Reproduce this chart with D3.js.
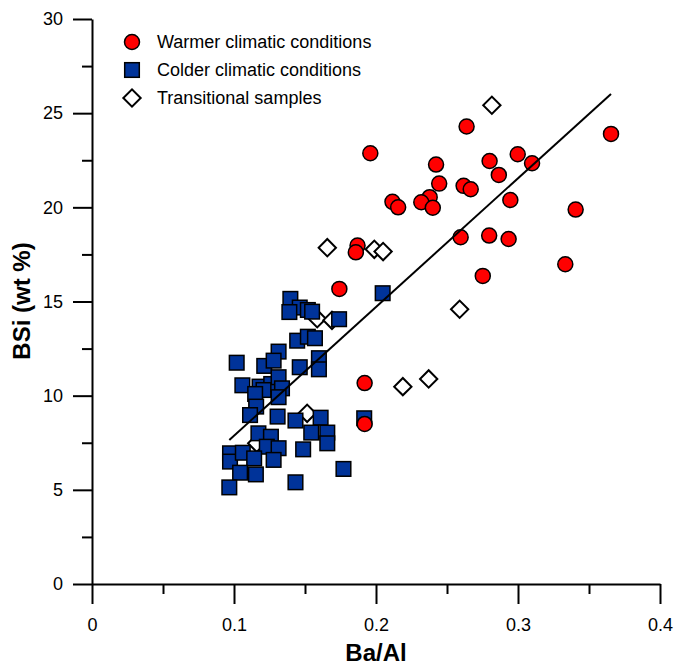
<!DOCTYPE html>
<html>
<head>
<meta charset="utf-8">
<title></title>
<script src="https://cdnjs.cloudflare.com/ajax/libs/d3/7.8.5/d3.min.js"></script>
<style>
  body { margin: 0; background: #fff; }
  text { font-family: "Liberation Sans", Arial, sans-serif; }
</style>
</head>
<body>
<script>
const width = 676;
const height = 665;

// warmer climatic conditions (red circles)
const warmX = [0.3655, 0.2638, 0.2423, 0.2800, 0.2998, 0.3099, 0.2865, 0.2445, 0.2617, 0.2667,
  0.2378, 0.2319, 0.2400, 0.2946, 0.3406, 0.2596, 0.2797, 0.2934, 0.3333, 0.2752,
  0.1960, 0.2116, 0.2156, 0.1870, 0.1858, 0.1742, 0.1920, 0.1920];
const warmY = [23.9, 24.29, 22.27, 22.46, 22.82, 22.34, 21.72, 21.26, 21.14, 20.96,
  20.54, 20.27, 19.98, 20.39, 19.88, 18.41, 18.50, 18.32, 16.98, 16.36,
  22.87, 20.29, 20.0, 17.97, 17.61, 15.67, 10.67, 8.50];

// colder climatic conditions (blue squares)
const coldX = [0.1397, 0.1463, 0.1390, 0.1520, 0.1550, 0.1740, 0.1445, 0.1520, 0.1570, 0.1314,
  0.1019, 0.1213, 0.1279, 0.1598, 0.1463, 0.1598, 0.1059, 0.1180, 0.1262, 0.1314,
  0.1338, 0.1208, 0.1149, 0.1314, 0.1156, 0.1113, 0.1307, 0.1433, 0.1610, 0.1544,
  0.1657, 0.1657, 0.1487, 0.1172, 0.1260, 0.1231, 0.1314, 0.1279, 0.0972, 0.0972,
  0.1062, 0.1142, 0.1043, 0.1154, 0.0967, 0.1433, 0.1771, 0.2047, 0.1917];
const coldY = [15.14, 14.68, 14.44, 14.55, 14.46, 14.06, 12.92, 13.13, 13.05, 12.34,
  11.75, 11.58, 11.86, 11.99, 11.51, 11.40, 10.55, 10.48, 10.62, 10.98,
  10.39, 10.30, 10.09, 9.92, 9.42, 8.97, 8.89, 8.68, 8.83, 8.04,
  8.04, 7.47, 7.15, 8.00, 7.82, 7.29, 7.21, 6.59, 6.94, 6.50,
  6.97, 6.67, 5.91, 5.82, 5.13, 5.40, 6.11, 15.44, 8.80];

// transitional samples (open diamonds)
const transX = [0.2816, 0.2589, 0.1657, 0.1988, 0.2050, 0.1586, 0.1690, 0.2189, 0.2371, 0.1515, 0.1160];
const transY = [25.42, 14.59, 17.86, 17.77, 17.65, 14.09, 14.0, 10.48, 10.89, 9.06, 7.47];

// regression line end points
const fitX = [0.0967, 0.3655];
const fitY = [7.65, 26.02];

const xTicks = [0, 0.1, 0.2, 0.3, 0.4];
const xMinor = [0.05, 0.15, 0.25, 0.35];
const yTicks = [0, 5, 10, 15, 20, 25, 30];
const yMinor = [2.5, 7.5, 12.5, 17.5, 22.5, 27.5];

const legendLabels = ['Warmer climatic conditions', 'Colder climatic conditions', 'Transitional samples'];

const svg = d3.select('body').append('svg')
  .attr('width', width)
  .attr('height', height);

const x = d3.scaleLinear().domain([0, 0.4]).range([92, 660]);
const y = d3.scaleLinear().domain([0, 30]).range([584, 19]);

const zip = (a, b) => a.map((v, i) => [v, b[i]]);

// axes
svg.append('g')
  .attr('transform', 'translate(0,584)')
  .call(d3.axisBottom(x).tickValues(xTicks).tickSize(20).tickSizeOuter(0).tickPadding(14)
    .tickFormat(d => d === 0 ? '0' : d3.format('.1f')(d)));
svg.append('g')
  .attr('transform', 'translate(0,584)')
  .call(d3.axisBottom(x).tickValues(xMinor).tickSize(10).tickFormat(''))
  .select('.domain').remove();

svg.append('g')
  .attr('transform', 'translate(92,0)')
  .call(d3.axisLeft(y).tickValues(yTicks).tickSize(19).tickSizeOuter(0).tickPadding(10));
svg.append('g')
  .attr('transform', 'translate(92,0)')
  .call(d3.axisLeft(y).tickValues(yMinor).tickSize(10).tickFormat(''))
  .select('.domain').remove();

svg.selectAll('.domain, .tick line').attr('stroke', '#000').attr('stroke-width', 2);
svg.selectAll('.tick text').attr('font-size', 18).attr('fill', '#000')
  .style('font-family', '"Liberation Sans", Arial, sans-serif');

svg.append('text')
  .attr('x', 376).attr('y', 661)
  .attr('text-anchor', 'middle')
  .attr('font-size', 24).attr('font-weight', 'bold')
  .text('Ba/Al');

svg.append('text')
  .attr('transform', 'translate(30,301) rotate(-90)')
  .attr('text-anchor', 'middle')
  .attr('font-size', 24).attr('font-weight', 'bold')
  .text('BSi (wt %)');

const diamond = d3.symbol().type(d3.symbolSquare).size(150);

// transitional diamonds (behind)
svg.append('g').selectAll('path')
  .data(zip(transX, transY)).enter()
  .append('path')
  .attr('d', diamond)
  .attr('transform', d => `translate(${x(d[0])},${y(d[1])}) rotate(45)`)
  .attr('fill', '#fff')
  .attr('stroke', '#000')
  .attr('stroke-width', 2);

// colder squares
svg.append('g').selectAll('rect')
  .data(zip(coldX, coldY)).enter()
  .append('rect')
  .attr('x', d => x(d[0]) - 7.3)
  .attr('y', d => y(d[1]) - 7.3)
  .attr('width', 14.6)
  .attr('height', 14.6)
  .attr('fill', '#003399')
  .attr('stroke', '#000')
  .attr('stroke-width', 1.5);

// warmer circles
svg.append('g').selectAll('circle')
  .data(zip(warmX, warmY)).enter()
  .append('circle')
  .attr('cx', d => x(d[0]))
  .attr('cy', d => y(d[1]))
  .attr('r', 7.5)
  .attr('fill', '#ff0000')
  .attr('stroke', '#000')
  .attr('stroke-width', 1.5);

// fit line
svg.append('path')
  .datum(zip(fitX, fitY))
  .attr('fill', 'none')
  .attr('stroke', '#000')
  .attr('stroke-width', 2)
  .attr('d', d3.line().x(d => x(d[0])).y(d => y(d[1])));

// legend
const legend = svg.append('g').attr('transform', 'translate(132,42)');
legend.append('circle').attr('cx', 0).attr('cy', 0).attr('r', 7.5)
  .attr('fill', '#ff0000').attr('stroke', '#000').attr('stroke-width', 1.5);
legend.append('rect').attr('x', -7.3).attr('y', 28 - 7.3).attr('width', 14.6).attr('height', 14.6)
  .attr('fill', '#003399').attr('stroke', '#000').attr('stroke-width', 1.5);
legend.append('path').attr('d', diamond)
  .attr('transform', 'translate(0,56) rotate(45)')
  .attr('fill', '#fff').attr('stroke', '#000').attr('stroke-width', 2);
legend.selectAll('text.lab')
  .data(legendLabels).enter()
  .append('text')
  .attr('class', 'lab')
  .attr('x', 25)
  .attr('y', (d, i) => i * 28)
  .attr('dy', '0.35em')
  .attr('font-size', 18)
  .text(d => d);
</script>
</body>
</html>
